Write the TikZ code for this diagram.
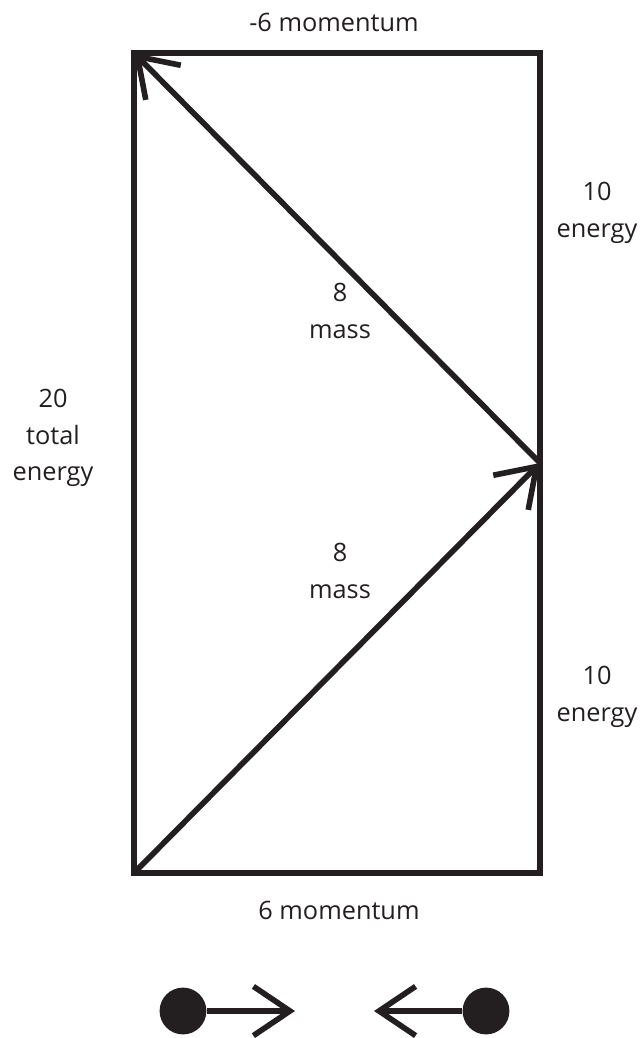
\documentclass[tikz,border=0pt]{standalone}
\usepackage{fontspec}
\setmainfont{Open Sans}
\usetikzlibrary{arrows.meta}
\definecolor{ink}{HTML}{231F20}
\tikzset{
  frame/.style={draw=ink, line width=4pt},
  vec/.style={draw=ink, line width=4pt, -{Straight Barb[length=26pt,width=35pt]}},
  lbl/.style={align=center, text=ink, font=\fontsize{18}{26}\selectfont},
  ball/.style={circle, fill=ink, inner sep=0pt, minimum size=1.17cm},
}
\begin{document}
\begin{tikzpicture}[x=0.025cm,y=-0.025cm]
\useasboundingbox (0,0) rectangle (639,1038);

% Coins
\coordinate (bl) at (134,873);
\coordinate (tl) at (134,53);
\coordinate (tr) at (540,53);
\coordinate (mr) at (540,463);

% Cadre
\draw[frame] (bl) rectangle (tr);

% Vecteurs
\draw[vec] (bl) -- (mr);
\draw[vec] (mr) -- (tl);

% Textes
\node[lbl] (ptop) at (334,22) {-6 momentum};
\node[lbl] (pbot) at (339,910) {6 momentum};
\node[lbl] (etop) at (597,213) {10\\energy};
\node[lbl] (ebot) at (597,697) {10\\energy};
\node[lbl] (mtop) at (340,311) {8\\mass};
\node[lbl] (mbot) at (340,571) {8\\mass};
\node[lbl] (etot) at (53,438) {20\\total\\energy};

% Particules
\node[ball] (pl) at (183,1011) {};
\node[ball] (pr) at (486,1011) {};
\coordinate (pltip) at (295,1011);
\coordinate (prtip) at (374,1011);
\draw[vec] (pl.east) -- (pltip);
\draw[vec] (pr.west) -- (prtip);

\end{tikzpicture}
\end{document}
